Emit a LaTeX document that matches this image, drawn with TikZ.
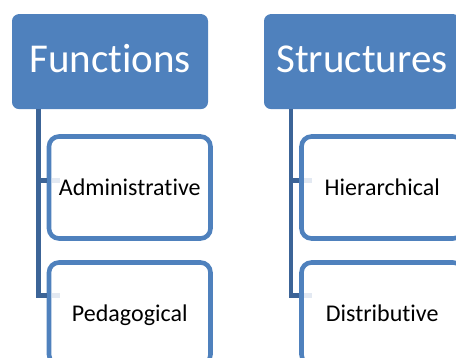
\documentclass[tikz,border=0pt]{standalone}
\usepackage{fontspec}
\setmainfont[Ligatures=NoCommon]{Carlito}
\usepackage{tikz}

\definecolor{accent}{HTML}{4F81BD}
\definecolor{linkblue}{HTML}{3C6497}
\definecolor{stubgray}{HTML}{E3E9F2}

\begin{document}
\begin{tikzpicture}[x=1pt,y=-1pt,
  parent/.style={fill=accent,rounded corners=7pt,text=white,
    minimum width=196pt,minimum height=95pt,inner sep=0pt,
    text height=26pt,text depth=4pt,
    font=\fontsize{41}{49}\selectfont},
  child/.style={draw=accent,line width=4.6pt,rounded corners=10pt,fill=white,
    minimum width=161.5pt,minimum height=102pt,inner sep=0pt,
    text height=16.5pt,text depth=0pt,
    font=\fontsize{24}{29}\selectfont},
  link/.style={draw=linkblue,line width=4.6pt},
  stub/.style={draw=stubgray,line width=4.4pt}]
\useasboundingbox (0,0) rectangle (456,358);
\clip (0,0) rectangle (456,358);
\node[parent] (functions) at (110,61.6) {Functions};
\node[parent] (structures) at (362,61.6) {Structures};
\node[child] (admin) at (129.75,187.5) {Administrative};
\node[child] (pedago) at (129.75,313.5) {Pedagogical};
\node[child] (hier) at (382.25,187.5) {Hierarchical};
\node[child] (distrib) at (382.25,313.5) {Distributive};
\draw[link] ([xshift=26.4pt]functions.south west) |- ([yshift=7pt]admin.west);
\draw[link] ([xshift=26.4pt]functions.south west) |- ([yshift=18pt]pedago.west);
\draw[link] ([xshift=27pt]structures.south west) |- ([yshift=7pt]hier.west);
\draw[link] ([xshift=27pt]structures.south west) |- ([yshift=18pt]distrib.west);
\draw[stub] ([yshift=7pt,xshift=4.8pt]admin.west) -- +(8,0);
\draw[stub] ([yshift=18pt,xshift=4.8pt]pedago.west) -- +(8,0);
\draw[stub] ([yshift=7pt,xshift=4.8pt]hier.west) -- +(8,0);
\draw[stub] ([yshift=18pt,xshift=4.8pt]distrib.west) -- +(8,0);
\end{tikzpicture}
\end{document}
